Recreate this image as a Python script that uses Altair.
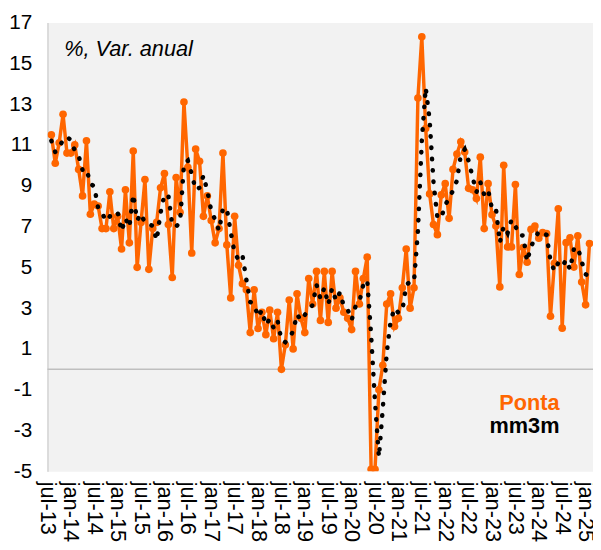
import altair as alt
import pandas as pd

# Monthly values, aug-13 .. feb-25 (month index 1 = aug-13, 0 = jul-13)
ponta = [
    11.5, 10.1, 11.1, 12.5, 10.6, 10.6, 11.0, 9.8, 8.5, 11.2,
    7.6, 8.1, 8.0, 6.9, 6.9, 8.7, 6.9, 7.5, 5.9, 8.8,
    6.2, 10.7, 5.0, 7.2, 9.3, 4.9, 6.9, 7.2, 8.9, 9.6,
    7.1, 4.5, 9.4, 7.7, 13.1, 9.9, 5.7, 10.8, 10.2, 7.5,
    8.5, 7.3, 6.2, 6.9, 10.6, 6.1, 3.5, 7.5, 5.1, 4.2,
    3.9, 1.8, 3.9, 2.0, 2.8, 1.7, 2.9, 1.5, 2.8, 0.0,
    1.2, 3.4, 1.0, 3.7, 2.5, 1.8, 4.45, 3.2, 4.8, 2.4,
    4.8, 2.3, 4.8, 3.0, 3.5, 2.8, 2.5, 1.95, 4.8, 3.2,
    4.45, 5.5, -4.9, -4.9, -1.0, 0.2, 3.2, 3.7, 2.1, 2.5,
    4.0, 5.9, 3.0, 4.0, 13.3, 16.3, 11.8, 8.6, 7.1, 6.6,
    8.55, 9.1, 7.4, 9.8, 10.55, 11.15, 10.65, 8.87, 8.8, 8.37,
    10.4, 6.9, 9.1, 7.58, 7.02, 4.04, 10.0, 6.0, 6.0, 9.06,
    4.65, 5.97, 5.25, 6.86, 7.02, 6.43, 6.7, 6.65, 2.6, 5.2,
    7.87, 2.02, 6.21, 6.45, 5.01, 6.54, 4.28, 3.16, 6.17,
]

mm3m = [
    11.2, 10.65, 10.9, 11.23, 11.4, 11.23, 10.73, 10.47, 9.77, 9.83,
    9.1, 8.97, 7.9, 7.67, 7.27, 7.5, 7.5, 7.7, 6.77, 7.4,
    6.97, 8.57, 7.3, 7.63, 7.17, 7.13, 7.03, 6.33, 7.67, 8.57,
    8.53, 7.07, 7.0, 7.2, 10.07, 10.23, 9.57, 8.8, 8.9, 9.5,
    8.73, 7.77, 7.33, 6.8, 7.9, 7.87, 6.73, 5.7, 5.37, 5.6,
    4.4, 3.3, 3.2, 2.57, 2.9, 2.17, 2.47, 2.03, 2.4, 1.43,
    1.33, 1.53, 1.87, 2.7, 2.4, 2.67, 2.92, 3.15, 4.15, 3.47,
    4.0, 3.17, 3.97, 3.37, 3.77, 3.1, 2.93, 2.42, 3.08, 3.32,
    4.15, 4.38, 1.68, -1.6, -4.3, -1.9, 0.8, 2.37, 3.0, 2.77,
    2.87, 4.13, 4.3, 4.3, 6.77, 11.2, 13.8, 12.23, 9.17, 7.43,
    7.42, 8.08, 8.35, 8.77, 9.25, 10.5, 10.78, 10.22, 9.44, 8.68,
    9.19, 8.56, 8.8, 7.86, 7.9, 6.21, 7.02, 6.68, 7.33, 7.02,
    6.57, 6.56, 5.29, 6.03, 6.38, 6.77, 6.72, 6.59, 5.32, 4.82,
    5.22, 5.03, 5.37, 4.89, 5.89, 6.0, 5.28, 4.66, 4.54,
]

tick_labels = [
    "jul-13", "jan-14", "jul-14", "jan-15", "jul-15", "jan-16", "jul-16",
    "jan-17", "jul-17", "jan-18", "jul-18", "jan-19", "jul-19", "jan-20",
    "jul-20", "jan-21", "jul-21", "jan-22", "jul-22", "jan-23", "jul-23",
    "jan-24", "jul-24", "jan-25",
]
y_ticks = [-5, -3, -1, 1, 3, 5, 7, 9, 11, 13, 15, 17]
series_names = ["Ponta", "mm3m"]
note = "%, Var. anual"

ORANGE = "#FF6600"
FONT = "Liberation Sans"

months = list(range(1, len(ponta) + 1))
df = pd.DataFrame({"m": months, "ponta": ponta, "mm3m": mm3m})

tick_values = [6 * k for k in range(len(tick_labels))]
label_expr = "[" + ",".join("'%s'" % t for t in tick_labels) + "][round(datum.value / 6)]"

xscale = alt.Scale(domain=[0, 139.9], nice=False, zero=False)
yscale = alt.Scale(domain=[-5, 17], nice=False, zero=False)

x_axis = alt.Axis(values=tick_values, labelExpr=label_expr, labelAngle=90,
                  labelFontSize=22, labelFont=FONT, labelColor="black",
                  labelPadding=10, domain=False, ticks=False, grid=False,
                  labelOverlap=False, title="")
y_axis = alt.Axis(values=y_ticks, labelExpr="'' + datum.value",
                  labelFontSize=21, labelFont=FONT,
                  labelColor="black", labelPadding=16, ticks=False, grid=False,
                  domainColor="#BFBFBF", domainWidth=1, title="")

X = alt.X("m:Q", scale=xscale, axis=x_axis)

zero = alt.Chart(pd.DataFrame({"z": [0]})).mark_rule(
    color="#BFBFBF", strokeWidth=1.5).encode(
    y=alt.Y("z:Q", scale=yscale, axis=y_axis))

base = alt.Chart(df)
orange_line = base.mark_line(color=ORANGE, strokeWidth=3.5, clip=True).encode(
    x=X, y=alt.Y("ponta:Q", scale=yscale, axis=y_axis))
orange_pts = base.mark_circle(color=ORANGE, size=60, opacity=1, clip=True).encode(
    x=X, y=alt.Y("ponta:Q", scale=yscale, axis=y_axis))
black_line = base.mark_line(color="black", strokeWidth=4.5,
                            strokeDash=[0.5, 11], strokeCap="round").encode(
    x=X, y=alt.Y("mm3m:Q", scale=yscale, axis=y_axis))

note_txt = alt.Chart(pd.DataFrame({"t": [note]})).mark_text(
    align="left", baseline="alphabetic", fontSize=22, fontStyle="italic",
    font=FONT, color="black").encode(
    x=alt.value(17), y=alt.value(34), text="t:N")

leg1 = alt.Chart(pd.DataFrame({"t": [series_names[0]]})).mark_text(
    align="right", baseline="alphabetic", fontSize=22, fontWeight="bold",
    font=FONT, color=ORANGE).encode(
    x=alt.value(519), y=alt.value(393), text="t:N")
leg2 = alt.Chart(pd.DataFrame({"t": [series_names[1]]})).mark_text(
    align="right", baseline="alphabetic", fontSize=22, fontWeight="bold",
    font=FONT, color="black").encode(
    x=alt.value(519), y=alt.value(416), text="t:N")

chart = alt.layer(zero, orange_line, orange_pts, black_line, note_txt, leg1, leg2).properties(
    width=553, height=455,
    autosize=alt.AutoSizeParams(type="none"),
    padding={"left": 40, "top": 11, "right": 0, "bottom": 74},
).configure_view(fill="#F2F2F2", stroke="transparent")

chart.save("out.html", embed_options={"renderer": "svg", "actions": False})
